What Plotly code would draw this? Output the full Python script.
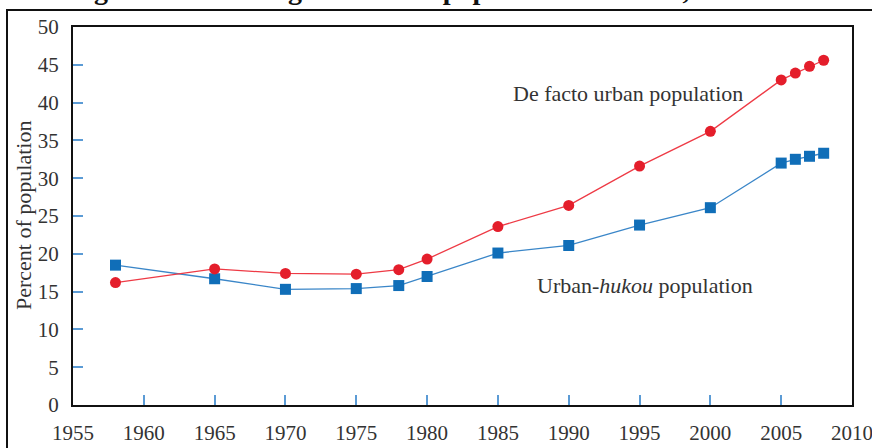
import plotly.graph_objects as go

years = [1958, 1965, 1970, 1975, 1978, 1980, 1985, 1990, 1995, 2000, 2005, 2006, 2007, 2008]
de_facto = [16.2, 18.0, 17.4, 17.3, 17.9, 19.3, 23.6, 26.4, 31.6, 36.2, 43.0, 43.9, 44.8, 45.6]
hukou = [18.5, 16.7, 15.3, 15.4, 15.8, 17.0, 20.1, 21.1, 23.8, 26.1, 32.0, 32.5, 32.9, 33.3]
x_ticks = list(range(1955, 2011, 5))
y_ticks = list(range(0, 51, 5))

FONT = "Liberation Serif, Times New Roman, serif"
TICK_BLUE = "#5b9bd5"
TXT = "#333333"

L, R, T, B = 73, 852, 27, 405
W, H = 910, 448  # wider than the 872 px window; the window crops the right edge like the reference

fig = go.Figure()
fig.add_trace(go.Scatter(
    x=years, y=hukou, mode="lines+markers", name="Urban-hukou population",
    line=dict(color="#3a86c8", width=1.3),
    marker=dict(symbol="square", size=11, color="#106eb8"),
    cliponaxis=False,
))
fig.add_trace(go.Scatter(
    x=years, y=de_facto, mode="lines+markers", name="De facto urban population",
    line=dict(color="#ee3a45", width=1.3),
    marker=dict(symbol="circle", size=11, color="#e41e2b"),
    cliponaxis=False,
))

fig.update_layout(
    width=W, height=H,
    margin=dict(l=L, r=W - R, t=T, b=H - B, autoexpand=False),
    paper_bgcolor="white", plot_bgcolor="white",
    showlegend=False,
    font=dict(family=FONT, color=TXT),
    xaxis=dict(
        range=[1955, 2010], tickvals=x_ticks, ticktext=[str(v) for v in x_ticks],
        ticks="inside", ticklen=10, tickwidth=1.5, tickcolor=TICK_BLUE,
        showgrid=False, zeroline=False,
        showline=True, linecolor="#111111", linewidth=2, mirror=True,
        tickfont=dict(family=FONT, size=21, color=TXT),
        ticklabelstandoff=8, automargin=False,
    ),
    yaxis=dict(
        range=[0, 50], tickvals=y_ticks, ticktext=[str(v) for v in y_ticks],
        ticks="inside", ticklen=10, tickwidth=1.5, tickcolor=TICK_BLUE,
        showgrid=False, zeroline=False,
        showline=True, linecolor="#111111", linewidth=2, mirror=True,
        tickfont=dict(family=FONT, size=21, color=TXT),
        ticklabelstandoff=8, automargin=False,
    ),
)


def px_to_paper(px, py):
    return (px - L) / float(R - L), (B - py) / float(B - T)


def label(px, py, text, size=22, angle=0, yanchor="middle", color=TXT):
    ax, ay = px_to_paper(px, py)
    fig.add_annotation(x=ax, y=ay, xref="paper", yref="paper", xanchor="center", yanchor=yanchor,
                       text=text, textangle=angle, showarrow=False,
                       font=dict(family=FONT, size=size, color=color))


label(23, 216, "Percent of population", angle=-90)
label(628, 93, "De facto urban population")
label(645, 285, "Urban-<i>hukou</i> population")
label(445, 7, "<b>Figure 1. Percentages of urban population in China, 1958–2008</b>", size=28,
      yanchor="bottom", color="#111111")

x0, y1 = px_to_paper(7, 10)
x1, y0 = px_to_paper(900, 480)
fig.add_shape(type="rect", xref="paper", yref="paper", x0=x0, y0=y0, x1=x1, y1=y1,
              line=dict(color="#111111", width=2), fillcolor="rgba(0,0,0,0)", layer="below")

fig.write_html("out.html", config={"displayModeBar": False},
               post_script="document.body.style.margin='0';document.body.style.overflow='hidden';")
